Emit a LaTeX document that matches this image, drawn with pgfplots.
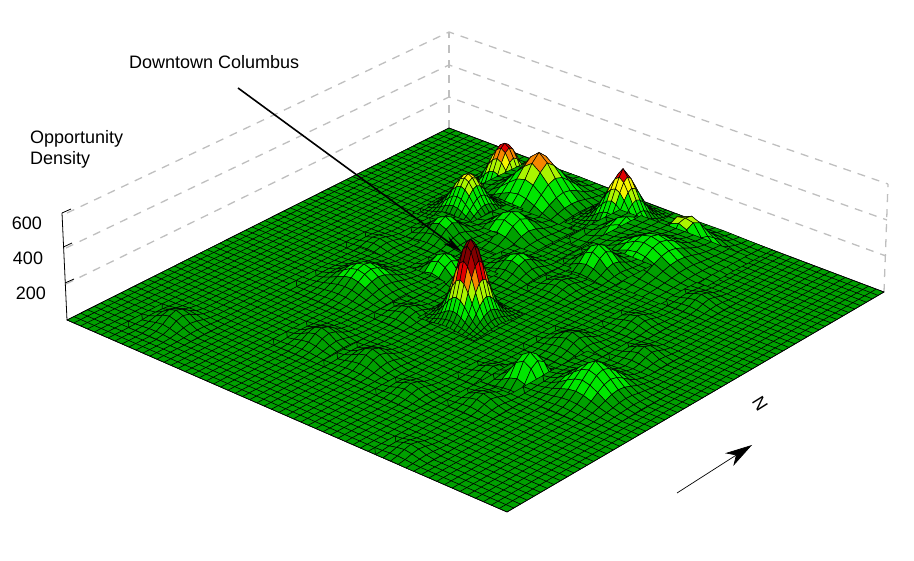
\documentclass[border=0pt]{standalone}
\usepackage{pgfplots}
\usepackage{fontspec}
\setmainfont{Liberation Sans}
\pgfplotsset{compat=1.18}
\usetikzlibrary{arrows.meta}
\definecolor{flr}{RGB}{0,160,0}
\pgfplotsset{
  colormap={opp}{rgb255=(0,160,0) rgb255=(0,160,0) rgb255=(0,160,0) rgb255=(0,160,0)
    rgb255=(0,230,0) rgb255=(0,230,0) rgb255=(0,230,0) rgb255=(0,230,0) rgb255=(0,230,0) rgb255=(0,230,0)
    rgb255=(170,245,0) rgb255=(170,245,0) rgb255=(170,245,0)
    rgb255=(245,245,0) rgb255=(245,245,0)
    rgb255=(245,135,0) rgb255=(245,135,0)
    rgb255=(225,0,0) rgb255=(225,0,0) rgb255=(225,0,0)
    rgb255=(176,0,0) rgb255=(176,0,0) rgb255=(176,0,0)
    rgb255=(128,0,0) rgb255=(128,0,0) rgb255=(128,0,0) rgb255=(128,0,0) rgb255=(128,0,0)},
  hs/.style={forget plot,surf,shader=faceted,faceted color=black,line width=0.5pt,line join=round,
    colormap access=piecewise constant,point meta min=0,point meta max=420,point meta=\thisrowno{0}},
}
\newcommand\hill[5]{\addplot[hs,mesh/cols=#3] table[row sep=\\,header=false,
  x expr={pxz(#1+#4*mod(\coordindex,#3),#2-#4*floor(\coordindex/#3),\thisrowno{0})},
  y expr={pyz(#1+#4*mod(\coordindex,#3),#2-#4*floor(\coordindex/#3),\thisrowno{0})}]{#5};}
\newcommand\wl[1]{\addplot[forget plot,draw=black!25,line width=1.3pt,dash pattern=on 8pt off 7pt] table[row sep=\\,header=false,x index=0,y index=1,col sep=space]{#1};}
\newcommand\fs{\fontsize{18}{21}\selectfont}
\begin{document}
\begin{tikzpicture}
\path[use as bounding box] (0,0) rectangle (914pt,561pt);
\begin{axis}[at={(0pt,0pt)},anchor=south west,width=914pt,height=561pt,scale only axis,
  xmin=0,xmax=914,ymin=0,ymax=561,y dir=reverse,hide axis,clip=false,
  declare function={
    wf(\u,\v)=1-0.0012018*\u+0.0012332*\v;
    pxf(\u,\v)=(6.724*\u+6.9203*\v+67)/wf(\u,\v);
    pyf(\u,\v)=(2.5847*\u-3.0422*\v+320)/wf(\u,\v);
    pxz(\u,\v,\z)=pxf(\u,\v)+(pxf(\u,\v)-460)*\z/600*0.012;
    pyz(\u,\v,\z)=pyf(\u,\v)-0.178*\z/wf(\u,\v);
  }]
% walls
\wl{67 213\\449 32\\888 184\\}
\wl{66 248\\449 65\\887 220\\}
\wl{66 284\\449 97\\886 256\\}
\wl{449 128\\449 32\\}
\wl{884 292\\888 184\\}
% floor
\addplot[forget plot,fill=flr,draw=black,line width=0.6pt] coordinates {(67,320)(507,512)(884,292)(449,128)} --cycle;
\pgfplotsinvokeforeach{0,...,60}{
  \addplot[forget plot,black,line width=0.6pt] table[row sep=\\,header=false,x expr={pxf(#1,\thisrowno{0})},y expr={pyf(#1,\thisrowno{0})}]{0\\60\\};
  \addplot[forget plot,black,line width=0.6pt] table[row sep=\\,header=false,x expr={pxf(\thisrowno{0},#1)},y expr={pyf(\thisrowno{0},#1)}]{0\\60\\};
}
% B1
\hill{10.66}{56.34}{15}{0.62}{0\\1\\2\\3\\5\\7\\9\\10\\9\\7\\5\\3\\2\\1\\0\\
1\\2\\4\\8\\13\\19\\23\\25\\23\\19\\13\\8\\4\\2\\1\\
2\\4\\9\\17\\28\\39\\48\\51\\48\\39\\28\\17\\9\\4\\2\\
3\\8\\17\\32\\51\\72\\89\\95\\89\\72\\51\\32\\17\\8\\3\\
5\\13\\28\\51\\83\\117\\144\\154\\144\\117\\83\\51\\28\\13\\5\\
7\\19\\39\\72\\117\\165\\202\\217\\202\\165\\117\\72\\39\\19\\7\\
9\\23\\48\\89\\144\\202\\249\\267\\249\\202\\144\\89\\48\\23\\9\\
10\\25\\51\\95\\154\\217\\267\\285\\267\\217\\154\\95\\51\\25\\10\\
9\\23\\48\\89\\144\\202\\249\\267\\249\\202\\144\\89\\48\\23\\9\\
7\\19\\39\\72\\117\\165\\202\\217\\202\\165\\117\\72\\39\\19\\7\\
5\\13\\28\\51\\83\\117\\144\\154\\144\\117\\83\\51\\28\\13\\5\\
3\\8\\17\\32\\51\\72\\89\\95\\89\\72\\51\\32\\17\\8\\3\\
2\\4\\9\\17\\28\\39\\48\\51\\48\\39\\28\\17\\9\\4\\2\\
1\\2\\4\\8\\13\\19\\23\\25\\23\\19\\13\\8\\4\\2\\1\\
0\\1\\2\\3\\5\\7\\9\\10\\9\\7\\5\\3\\2\\1\\0\\}
% B2
\hill{12.1}{59.9}{13}{1.15}{0\\0\\1\\2\\4\\5\\6\\5\\4\\2\\1\\0\\0\\
0\\1\\3\\7\\12\\16\\18\\16\\12\\7\\3\\1\\0\\
1\\3\\9\\18\\30\\42\\46\\42\\30\\18\\9\\3\\1\\
2\\7\\18\\37\\63\\85\\95\\85\\63\\37\\18\\7\\2\\
4\\12\\30\\63\\105\\143\\159\\143\\105\\63\\30\\12\\4\\
5\\16\\42\\85\\143\\195\\232\\195\\143\\85\\42\\16\\5\\
6\\18\\46\\95\\159\\232\\275\\232\\159\\95\\46\\18\\6\\
5\\16\\42\\85\\143\\195\\232\\195\\143\\85\\42\\16\\5\\
4\\12\\30\\63\\105\\143\\159\\143\\105\\63\\30\\12\\4\\
2\\7\\18\\37\\63\\85\\95\\85\\63\\37\\18\\7\\2\\
1\\3\\9\\18\\30\\42\\46\\42\\30\\18\\9\\3\\1\\
0\\1\\3\\7\\12\\16\\18\\16\\12\\7\\3\\1\\0\\
0\\0\\1\\2\\4\\5\\6\\5\\4\\2\\1\\0\\0\\}
% B3
\hill{10.8}{50.2}{15}{0.6}{0\\1\\2\\3\\4\\6\\7\\8\\7\\6\\4\\3\\2\\1\\0\\
1\\2\\3\\6\\10\\14\\17\\19\\17\\14\\10\\6\\3\\2\\1\\
2\\3\\7\\13\\21\\30\\36\\39\\36\\30\\21\\13\\7\\3\\2\\
3\\6\\13\\24\\39\\55\\67\\72\\67\\55\\39\\24\\13\\6\\3\\
4\\10\\21\\39\\63\\88\\109\\116\\109\\88\\63\\39\\21\\10\\4\\
6\\14\\30\\55\\88\\125\\153\\164\\153\\125\\88\\55\\30\\14\\6\\
7\\17\\36\\67\\109\\153\\188\\201\\188\\153\\109\\67\\36\\17\\7\\
8\\19\\39\\72\\116\\164\\201\\215\\201\\164\\116\\72\\39\\19\\8\\
7\\17\\36\\67\\109\\153\\188\\201\\188\\153\\109\\67\\36\\17\\7\\
6\\14\\30\\55\\88\\125\\153\\164\\153\\125\\88\\55\\30\\14\\6\\
4\\10\\21\\39\\63\\88\\109\\116\\109\\88\\63\\39\\21\\10\\4\\
3\\6\\13\\24\\39\\55\\67\\72\\67\\55\\39\\24\\13\\6\\3\\
2\\3\\7\\13\\21\\30\\36\\39\\36\\30\\21\\13\\7\\3\\2\\
1\\2\\3\\6\\10\\14\\17\\19\\17\\14\\10\\6\\3\\2\\1\\
0\\1\\2\\3\\4\\6\\7\\8\\7\\6\\4\\3\\2\\1\\0\\}
% C1
\hill{24.66}{59.34}{15}{0.62}{0\\1\\2\\3\\5\\7\\9\\9\\9\\7\\5\\3\\2\\1\\0\\
1\\2\\4\\8\\13\\18\\21\\23\\21\\18\\13\\8\\4\\2\\1\\
2\\4\\9\\16\\26\\37\\45\\48\\45\\37\\26\\16\\9\\4\\2\\
3\\8\\16\\30\\48\\68\\84\\90\\84\\68\\48\\30\\16\\8\\3\\
5\\13\\26\\48\\79\\111\\136\\146\\136\\111\\79\\48\\26\\13\\5\\
7\\18\\37\\68\\111\\156\\192\\205\\192\\156\\111\\68\\37\\18\\7\\
9\\21\\45\\84\\136\\192\\240\\262\\240\\192\\136\\84\\45\\21\\9\\
9\\23\\48\\90\\146\\205\\262\\300\\262\\205\\146\\90\\48\\23\\9\\
9\\21\\45\\84\\136\\192\\240\\262\\240\\192\\136\\84\\45\\21\\9\\
7\\18\\37\\68\\111\\156\\192\\205\\192\\156\\111\\68\\37\\18\\7\\
5\\13\\26\\48\\79\\111\\136\\146\\136\\111\\79\\48\\26\\13\\5\\
3\\8\\16\\30\\48\\68\\84\\90\\84\\68\\48\\30\\16\\8\\3\\
2\\4\\9\\16\\26\\37\\45\\48\\45\\37\\26\\16\\9\\4\\2\\
1\\2\\4\\8\\13\\18\\21\\23\\21\\18\\13\\8\\4\\2\\1\\
0\\1\\2\\3\\5\\7\\9\\9\\9\\7\\5\\3\\2\\1\\0\\}
% B5
\hill{17.2}{49.8}{9}{1.2}{0\\1\\2\\3\\4\\3\\2\\1\\0\\
1\\2\\7\\14\\17\\14\\7\\2\\1\\
2\\7\\21\\41\\51\\41\\21\\7\\2\\
3\\14\\41\\80\\100\\80\\41\\14\\3\\
4\\17\\51\\100\\125\\100\\51\\17\\4\\
3\\14\\41\\80\\100\\80\\41\\14\\3\\
2\\7\\21\\41\\51\\41\\21\\7\\2\\
1\\2\\7\\14\\17\\14\\7\\2\\1\\
0\\1\\2\\3\\4\\3\\2\\1\\0\\}
% B4
\hill{13}{44}{9}{1}{0\\0\\1\\3\\3\\3\\1\\0\\0\\
0\\2\\6\\12\\15\\12\\6\\2\\0\\
1\\6\\19\\36\\45\\36\\19\\6\\1\\
3\\12\\36\\70\\88\\70\\36\\12\\3\\
3\\15\\45\\88\\110\\88\\45\\15\\3\\
3\\12\\36\\70\\88\\70\\36\\12\\3\\
1\\6\\19\\36\\45\\36\\19\\6\\1\\
0\\2\\6\\12\\15\\12\\6\\2\\0\\
0\\0\\1\\3\\3\\3\\1\\0\\0\\}
% E13
\hill{10}{37}{7}{1}{0\\0\\1\\2\\1\\0\\0\\
0\\2\\6\\8\\6\\2\\0\\
1\\6\\16\\22\\16\\6\\1\\
2\\8\\22\\30\\22\\8\\2\\
1\\6\\16\\22\\16\\6\\1\\
0\\2\\6\\8\\6\\2\\0\\
0\\0\\1\\2\\1\\0\\0\\}
% C2
\hill{27.2}{56.8}{9}{1.2}{0\\1\\2\\3\\4\\3\\2\\1\\0\\
1\\2\\7\\14\\17\\14\\7\\2\\1\\
2\\7\\21\\41\\51\\41\\21\\7\\2\\
3\\14\\41\\80\\100\\80\\41\\14\\3\\
4\\17\\51\\100\\125\\100\\51\\17\\4\\
3\\14\\41\\80\\100\\80\\41\\14\\3\\
2\\7\\21\\41\\51\\41\\21\\7\\2\\
1\\2\\7\\14\\17\\14\\7\\2\\1\\
0\\1\\2\\3\\4\\3\\2\\1\\0\\}
% D1
\hill{32.2}{60}{13}{1.1}{0\\0\\1\\2\\3\\4\\5\\4\\3\\2\\1\\0\\0\\
0\\1\\2\\5\\9\\12\\14\\12\\9\\5\\2\\1\\0\\
1\\2\\7\\14\\23\\32\\35\\32\\23\\14\\7\\2\\1\\
2\\5\\14\\28\\49\\65\\73\\65\\49\\28\\14\\5\\2\\
3\\9\\23\\49\\81\\110\\122\\110\\81\\49\\23\\9\\3\\
4\\12\\32\\65\\110\\170\\190\\170\\110\\65\\32\\12\\4\\
5\\14\\35\\73\\122\\190\\200\\190\\122\\73\\35\\14\\5\\
4\\12\\32\\65\\110\\170\\190\\170\\110\\65\\32\\12\\4\\
3\\9\\23\\49\\81\\110\\122\\110\\81\\49\\23\\9\\3\\
2\\5\\14\\28\\49\\65\\73\\65\\49\\28\\14\\5\\2\\
1\\2\\7\\14\\23\\32\\35\\32\\23\\14\\7\\2\\1\\
0\\1\\2\\5\\9\\12\\14\\12\\9\\5\\2\\1\\0\\
0\\0\\1\\2\\3\\4\\5\\4\\3\\2\\1\\0\\0\\}
% D2
\hill{29.8}{57.2}{13}{1.2}{0\\0\\1\\1\\2\\3\\3\\3\\2\\1\\1\\0\\0\\
0\\1\\2\\4\\6\\9\\10\\9\\6\\4\\2\\1\\0\\
1\\2\\5\\10\\16\\23\\25\\23\\16\\10\\5\\2\\1\\
1\\4\\10\\20\\34\\46\\51\\46\\34\\20\\10\\4\\1\\
2\\6\\16\\34\\57\\77\\86\\77\\57\\34\\16\\6\\2\\
3\\9\\23\\46\\77\\105\\117\\105\\77\\46\\23\\9\\3\\
3\\10\\25\\51\\86\\117\\130\\117\\86\\51\\25\\10\\3\\
3\\9\\23\\46\\77\\105\\117\\105\\77\\46\\23\\9\\3\\
2\\6\\16\\34\\57\\77\\86\\77\\57\\34\\16\\6\\2\\
1\\4\\10\\20\\34\\46\\51\\46\\34\\20\\10\\4\\1\\
1\\2\\5\\10\\16\\23\\25\\23\\16\\10\\5\\2\\1\\
0\\1\\2\\4\\6\\9\\10\\9\\6\\4\\2\\1\\0\\
0\\0\\1\\1\\2\\3\\3\\3\\2\\1\\1\\0\\0\\}
% C3
\hill{30}{49}{9}{1}{0\\1\\2\\3\\4\\3\\2\\1\\0\\
1\\2\\7\\14\\18\\14\\7\\2\\1\\
2\\7\\22\\43\\53\\43\\22\\7\\2\\
3\\14\\43\\83\\104\\83\\43\\14\\3\\
4\\18\\53\\104\\130\\104\\53\\18\\4\\
3\\14\\43\\83\\104\\83\\43\\14\\3\\
2\\7\\22\\43\\53\\43\\22\\7\\2\\
1\\2\\7\\14\\18\\14\\7\\2\\1\\
0\\1\\2\\3\\4\\3\\2\\1\\0\\}
% B7
\hill{24}{43}{9}{1}{0\\0\\1\\2\\3\\2\\1\\0\\0\\
0\\2\\5\\10\\12\\10\\5\\2\\0\\
1\\5\\15\\30\\37\\30\\15\\5\\1\\
2\\10\\30\\58\\72\\58\\30\\10\\2\\
3\\12\\37\\72\\90\\72\\37\\12\\3\\
2\\10\\30\\58\\72\\58\\30\\10\\2\\
1\\5\\15\\30\\37\\30\\15\\5\\1\\
0\\2\\5\\10\\12\\10\\5\\2\\0\\
0\\0\\1\\2\\3\\2\\1\\0\\0\\}
% B6
\hill{19}{37}{9}{1}{0\\1\\2\\3\\4\\3\\2\\1\\0\\
1\\2\\7\\14\\17\\14\\7\\2\\1\\
2\\7\\21\\41\\51\\41\\21\\7\\2\\
3\\14\\41\\80\\100\\80\\41\\14\\3\\
4\\17\\51\\100\\125\\100\\51\\17\\4\\
3\\14\\41\\80\\100\\80\\41\\14\\3\\
2\\7\\21\\41\\51\\41\\21\\7\\2\\
1\\2\\7\\14\\17\\14\\7\\2\\1\\
0\\1\\2\\3\\4\\3\\2\\1\\0\\}
% E1
\hill{12}{32}{13}{1}{0\\0\\1\\1\\2\\2\\3\\2\\2\\1\\1\\0\\0\\
0\\1\\2\\3\\5\\8\\9\\8\\5\\3\\2\\1\\0\\
1\\2\\4\\9\\14\\20\\22\\20\\14\\9\\4\\2\\1\\
1\\3\\9\\18\\30\\41\\45\\41\\30\\18\\9\\3\\1\\
2\\5\\14\\30\\50\\68\\76\\68\\50\\30\\14\\5\\2\\
2\\8\\20\\41\\68\\93\\104\\93\\68\\41\\20\\8\\2\\
3\\9\\22\\45\\76\\104\\115\\104\\76\\45\\22\\9\\3\\
2\\8\\20\\41\\68\\93\\104\\93\\68\\41\\20\\8\\2\\
2\\5\\14\\30\\50\\68\\76\\68\\50\\30\\14\\5\\2\\
1\\3\\9\\18\\30\\41\\45\\41\\30\\18\\9\\3\\1\\
1\\2\\4\\9\\14\\20\\22\\20\\14\\9\\4\\2\\1\\
0\\1\\2\\3\\5\\8\\9\\8\\5\\3\\2\\1\\0\\
0\\0\\1\\1\\2\\2\\3\\2\\2\\1\\1\\0\\0\\}
% E14
\hill{31}{42}{7}{1}{0\\1\\2\\2\\2\\1\\0\\
1\\3\\8\\11\\8\\3\\1\\
2\\8\\21\\29\\21\\8\\2\\
2\\11\\29\\40\\29\\11\\2\\
2\\8\\21\\29\\21\\8\\2\\
1\\3\\8\\11\\8\\3\\1\\
0\\1\\2\\2\\2\\1\\0\\}
% E16
\hill{44}{49}{7}{1}{0\\1\\2\\2\\2\\1\\0\\
1\\3\\8\\11\\8\\3\\1\\
2\\8\\21\\29\\21\\8\\2\\
2\\11\\29\\40\\29\\11\\2\\
2\\8\\21\\29\\21\\8\\2\\
1\\3\\8\\11\\8\\3\\1\\
0\\1\\2\\2\\2\\1\\0\\}
% E12
\hill{23}{27}{7}{1}{0\\1\\2\\3\\2\\1\\0\\
1\\3\\9\\13\\9\\3\\1\\
2\\9\\24\\33\\24\\9\\2\\
3\\13\\33\\45\\33\\13\\3\\
2\\9\\24\\33\\24\\9\\2\\
1\\3\\9\\13\\9\\3\\1\\
0\\1\\2\\3\\2\\1\\0\\}
% E2
\hill{5}{11}{9}{1}{0\\0\\1\\2\\2\\2\\1\\0\\0\\
0\\1\\4\\8\\9\\8\\4\\1\\0\\
1\\4\\12\\23\\29\\23\\12\\4\\1\\
2\\8\\23\\45\\56\\45\\23\\8\\2\\
2\\9\\29\\56\\70\\56\\29\\9\\2\\
2\\8\\23\\45\\56\\45\\23\\8\\2\\
1\\4\\12\\23\\29\\23\\12\\4\\1\\
0\\1\\4\\8\\9\\8\\4\\1\\0\\
0\\0\\1\\2\\2\\2\\1\\0\\0\\}
% A Downtown
\hill{27.15}{31.85}{15}{0.55}{0\\1\\3\\5\\8\\11\\14\\15\\14\\11\\8\\5\\3\\1\\0\\
1\\3\\6\\12\\20\\28\\34\\37\\34\\28\\20\\12\\6\\3\\1\\
3\\6\\14\\26\\42\\59\\72\\77\\72\\59\\42\\26\\14\\6\\3\\
5\\12\\26\\48\\77\\109\\134\\144\\134\\109\\77\\48\\26\\12\\5\\
8\\20\\42\\77\\125\\176\\217\\232\\217\\176\\125\\77\\42\\20\\8\\
11\\28\\59\\109\\176\\249\\305\\327\\305\\249\\176\\109\\59\\28\\11\\
14\\34\\72\\134\\217\\305\\375\\402\\375\\305\\217\\134\\72\\34\\14\\
15\\37\\77\\144\\232\\327\\402\\430\\402\\327\\232\\144\\77\\37\\15\\
14\\34\\72\\134\\217\\305\\375\\402\\375\\305\\217\\134\\72\\34\\14\\
11\\28\\59\\109\\176\\249\\305\\327\\305\\249\\176\\109\\59\\28\\11\\
8\\20\\42\\77\\125\\176\\217\\232\\217\\176\\125\\77\\42\\20\\8\\
5\\12\\26\\48\\77\\109\\134\\144\\134\\109\\77\\48\\26\\12\\5\\
3\\6\\14\\26\\42\\59\\72\\77\\72\\59\\42\\26\\14\\6\\3\\
1\\3\\6\\12\\20\\28\\34\\37\\34\\28\\20\\12\\6\\3\\1\\
0\\1\\3\\5\\8\\11\\14\\15\\14\\11\\8\\5\\3\\1\\0\\}
% E15
\hill{42}{41}{7}{1}{0\\1\\2\\2\\2\\1\\0\\
1\\3\\8\\11\\8\\3\\1\\
2\\8\\21\\29\\21\\8\\2\\
2\\11\\29\\40\\29\\11\\2\\
2\\8\\21\\29\\21\\8\\2\\
1\\3\\8\\11\\8\\3\\1\\
0\\1\\2\\2\\2\\1\\0\\}
% E3
\hill{19}{18}{9}{1}{0\\0\\1\\2\\2\\2\\1\\0\\0\\
0\\1\\4\\8\\9\\8\\4\\1\\0\\
1\\4\\12\\23\\29\\23\\12\\4\\1\\
2\\8\\23\\45\\56\\45\\23\\8\\2\\
2\\9\\29\\56\\70\\56\\29\\9\\2\\
2\\8\\23\\45\\56\\45\\23\\8\\2\\
1\\4\\12\\23\\29\\23\\12\\4\\1\\
0\\1\\4\\8\\9\\8\\4\\1\\0\\
0\\0\\1\\2\\2\\2\\1\\0\\0\\}
% E7
\hill{39}{34}{9}{1}{0\\0\\1\\2\\2\\2\\1\\0\\0\\
0\\1\\4\\8\\9\\8\\4\\1\\0\\
1\\4\\12\\23\\29\\23\\12\\4\\1\\
2\\8\\23\\45\\56\\45\\23\\8\\2\\
2\\9\\29\\56\\70\\56\\29\\9\\2\\
2\\8\\23\\45\\56\\45\\23\\8\\2\\
1\\4\\12\\23\\29\\23\\12\\4\\1\\
0\\1\\4\\8\\9\\8\\4\\1\\0\\
0\\0\\1\\2\\2\\2\\1\\0\\0\\}
% E4
\hill{26}{18}{9}{1}{0\\0\\1\\2\\2\\2\\1\\0\\0\\
0\\1\\4\\8\\9\\8\\4\\1\\0\\
1\\4\\12\\23\\29\\23\\12\\4\\1\\
2\\8\\23\\45\\56\\45\\23\\8\\2\\
2\\9\\29\\56\\70\\56\\29\\9\\2\\
2\\8\\23\\45\\56\\45\\23\\8\\2\\
1\\4\\12\\23\\29\\23\\12\\4\\1\\
0\\1\\4\\8\\9\\8\\4\\1\\0\\
0\\0\\1\\2\\2\\2\\1\\0\\0\\}
% E17
\hill{47}{36}{7}{1}{0\\1\\2\\3\\2\\1\\0\\
1\\4\\10\\14\\10\\4\\1\\
2\\10\\26\\36\\26\\10\\2\\
3\\14\\36\\50\\36\\14\\3\\
2\\10\\26\\36\\26\\10\\2\\
1\\4\\10\\14\\10\\4\\1\\
0\\1\\2\\3\\2\\1\\0\\}
% E8
\hill{38}{23}{7}{1}{0\\1\\2\\3\\2\\1\\0\\
1\\3\\9\\13\\9\\3\\1\\
2\\9\\24\\33\\24\\9\\2\\
3\\13\\33\\45\\33\\13\\3\\
2\\9\\24\\33\\24\\9\\2\\
1\\3\\9\\13\\9\\3\\1\\
0\\1\\2\\3\\2\\1\\0\\}
% E5
\hill{41}{25}{9}{1}{0\\1\\2\\4\\4\\4\\2\\1\\0\\
1\\3\\9\\17\\21\\17\\9\\3\\1\\
2\\9\\26\\51\\64\\51\\26\\9\\2\\
4\\17\\51\\115\\140\\115\\51\\17\\4\\
4\\21\\64\\140\\170\\140\\64\\21\\4\\
4\\17\\51\\115\\140\\115\\51\\17\\4\\
2\\9\\26\\51\\64\\51\\26\\9\\2\\
1\\3\\9\\17\\21\\17\\9\\3\\1\\
0\\1\\2\\4\\4\\4\\2\\1\\0\\}
% E9
\hill{34}{15}{7}{1}{0\\1\\2\\2\\2\\1\\0\\
1\\3\\8\\11\\8\\3\\1\\
2\\8\\21\\29\\21\\8\\2\\
2\\11\\29\\40\\29\\11\\2\\
2\\8\\21\\29\\21\\8\\2\\
1\\3\\8\\11\\8\\3\\1\\
0\\1\\2\\2\\2\\1\\0\\}
% E6
\hill{45}{30}{13}{1}{0\\0\\1\\1\\2\\3\\4\\3\\2\\1\\1\\0\\0\\
0\\1\\2\\5\\7\\10\\12\\10\\7\\5\\2\\1\\0\\
1\\2\\6\\12\\18\\26\\29\\26\\18\\12\\6\\2\\1\\
1\\5\\12\\23\\39\\53\\59\\53\\39\\23\\12\\5\\1\\
2\\7\\18\\39\\66\\89\\99\\89\\66\\39\\18\\7\\2\\
3\\10\\26\\53\\89\\121\\135\\121\\89\\53\\26\\10\\3\\
4\\12\\29\\59\\99\\135\\165\\135\\99\\59\\29\\12\\4\\
3\\10\\26\\53\\89\\121\\135\\121\\89\\53\\26\\10\\3\\
2\\7\\18\\39\\66\\89\\99\\89\\66\\39\\18\\7\\2\\
1\\5\\12\\23\\39\\53\\59\\53\\39\\23\\12\\5\\1\\
1\\2\\6\\12\\18\\26\\29\\26\\18\\12\\6\\2\\1\\
0\\1\\2\\5\\7\\10\\12\\10\\7\\5\\2\\1\\0\\
0\\0\\1\\1\\2\\3\\4\\3\\2\\1\\1\\0\\0\\}
% E10
\hill{41}{18}{7}{1}{0\\1\\2\\3\\2\\1\\0\\
1\\3\\9\\13\\9\\3\\1\\
2\\9\\24\\33\\24\\9\\2\\
3\\13\\33\\45\\33\\13\\3\\
2\\9\\24\\33\\24\\9\\2\\
1\\3\\9\\13\\9\\3\\1\\
0\\1\\2\\3\\2\\1\\0\\}
% E11
\hill{42}{6}{7}{1}{0\\0\\1\\2\\1\\0\\0\\
0\\2\\6\\8\\6\\2\\0\\
1\\6\\16\\22\\16\\6\\1\\
2\\8\\22\\30\\22\\8\\2\\
1\\6\\16\\22\\16\\6\\1\\
0\\2\\6\\8\\6\\2\\0\\
0\\0\\1\\2\\1\\0\\0\\}
% z axis
\addplot[forget plot,black,line width=0.8pt] coordinates {(67,320)(62,213)};
\addplot[forget plot,black,line width=0.8pt] coordinates {(65,283)(74,279)};
\addplot[forget plot,black,line width=0.8pt] coordinates {(63.5,247)(72,243)};
\addplot[forget plot,black,line width=0.8pt] coordinates {(62,213)(71,209)};
\node[anchor=center,font=\fs] at (27,223) {600};
\node[anchor=center,font=\fs] at (28,258) {400};
\node[anchor=center,font=\fs] at (31,293) {200};
\node[anchor=west,inner sep=0pt,font=\fs] at (30,139) {Opportunity};
\node[anchor=west,inner sep=0pt,font=\fs] at (30,160) {Density};
\node[anchor=west,inner sep=0pt,font=\fs] at (129,62) {Downtown Columbus};
\draw[black,line width=1.6pt,-{Stealth[length=20pt,width=9pt]}] (238,88) -- (462,252);
\draw[black,line width=0.7pt,-{Stealth[length=27pt,width=15pt,inset=8pt]}] (677,493) -- (752,445);
\node[rotate=-58,font=\fs] at (760,404) {N};
\end{axis}
\end{tikzpicture}
\end{document}
